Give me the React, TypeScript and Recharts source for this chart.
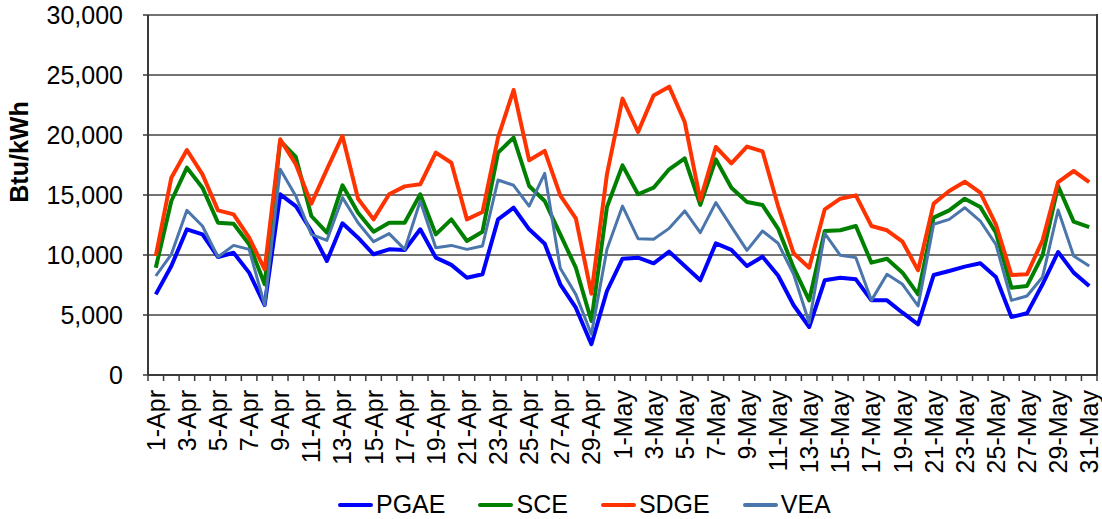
import { LineChart, Line, XAxis, YAxis, CartesianGrid, Legend, Label } from "recharts";

const dates = [
  "1-Apr", "2-Apr", "3-Apr", "4-Apr", "5-Apr", "6-Apr", "7-Apr", "8-Apr", "9-Apr", "10-Apr",
  "11-Apr", "12-Apr", "13-Apr", "14-Apr", "15-Apr", "16-Apr", "17-Apr", "18-Apr", "19-Apr", "20-Apr",
  "21-Apr", "22-Apr", "23-Apr", "24-Apr", "25-Apr", "26-Apr", "27-Apr", "28-Apr", "29-Apr", "30-Apr",
  "1-May", "2-May", "3-May", "4-May", "5-May", "6-May", "7-May", "8-May", "9-May", "10-May",
  "11-May", "12-May", "13-May", "14-May", "15-May", "16-May", "17-May", "18-May", "19-May", "20-May",
  "21-May", "22-May", "23-May", "24-May", "25-May", "26-May", "27-May", "28-May", "29-May", "30-May",
  "31-May",
];

const pgae = [
  6720, 9080, 12140, 11720, 9830, 10190, 8530, 5830, 15060, 14080,
  12000, 9500, 12640, 11440, 10060, 10470, 10420, 12140, 9780, 9180,
  8110, 8390, 12970, 13940, 12140, 10940, 7560, 5610, 2560, 7000,
  9690, 9780, 9310, 10280, 9080, 7890, 10970, 10420, 9080, 9860,
  8290, 5810, 4000, 7890, 8110, 7970, 6220, 6220, 5190, 4220,
  8330, 8670, 9030, 9310, 8170, 4830, 5140, 7560, 10250, 8530, 7420,
];

const sce = [
  8940, 14500, 17280, 15610, 12690, 12610, 10890, 7560, 19500, 18170,
  13250, 11860, 15810, 13530, 11940, 12690, 12690, 15060, 11720, 12970,
  11170, 11940, 18530, 19780, 15750, 14500, 11720, 8940, 4500, 14000,
  17470, 15060, 15610, 17140, 18060, 14170, 17970, 15610, 14420, 14160,
  12200, 8940, 6220, 12000, 12060, 12420, 9360, 9690, 8530, 6720,
  13110, 13720, 14690, 14000, 11860, 7280, 7420, 9970, 15750, 12780, 12330,
];

const sdge = [
  9920, 16440, 18750, 16720, 13720, 13390, 11440, 8810, 19640, 17560,
  14280, 17140, 19920, 14690, 12970, 15060, 15720, 15890, 18530, 17690,
  12970, 13580, 19780, 23750, 17890, 18670, 14970, 13060, 6780, 16720,
  23030, 20250, 23300, 24030, 21080, 14580, 19000, 17640, 19030, 18640,
  14080, 10140, 8940, 13810, 14690, 14970, 12420, 12060, 11110, 8720,
  14280, 15330, 16110, 15190, 12560, 8330, 8390, 11220, 16080, 17000, 16080,
];

const vea = [
  8250, 10060, 13720, 12420, 9830, 10800, 10470, 5830, 17140, 14920,
  11720, 11220, 14780, 12690, 11110, 11780, 10470, 14500, 10610, 10800,
  10470, 10750, 16250, 15810, 14080, 16810, 8890, 6720, 3390, 10470,
  14080, 11360, 11310, 12220, 13670, 11860, 14360, 12360, 10390, 12000,
  10980, 8390, 4360, 11810, 9970, 9780, 6220, 8390, 7560, 5750,
  12560, 12970, 13940, 12830, 10890, 6220, 6580, 8170, 13750, 9920, 9080,
];

const yTicks = [0, 5000, 10000, 15000, 20000, 25000, 30000];

const series = [
  { key: "PGAE", values: pgae },
  { key: "SCE", values: sce },
  { key: "SDGE", values: sdge },
  { key: "VEA", values: vea },
];

const styles: Record<string, { color: string; width: number }> = {
  PGAE: { color: "#0000ff", width: 4 },
  SCE: { color: "#008000", width: 4 },
  SDGE: { color: "#ff3300", width: 4 },
  VEA: { color: "#4a76ab", width: 3 },
};

const data = dates.map((date, i) => {
  const row: Record<string, string | number> = { date };
  series.forEach((s) => (row[s.key] = s.values[i]));
  return row;
});

const FONT = "'Liberation Sans', Arial, sans-serif";
const W = 1102;
const H = 519;
const LEFT = 148;
const RIGHT = 5;
const TOP = 15;
const X_AXIS_H = 100;
const BOTTOM = 44;
const STEP = (W - LEFT - RIGHT) / dates.length;
const FRAME = "#3a3a3a";

function DateTick(props: any) {
  const { x, y, payload, index } = props;
  const last = index === dates.length - 1;
  return (
    <g>
      <line x1={x - STEP / 2} x2={x - STEP / 2} y1={y} y2={y + 6} stroke={FRAME} strokeWidth={1.5} />
      {last && (
        <line x1={x + STEP / 2} x2={x + STEP / 2} y1={y} y2={y + 6} stroke={FRAME} strokeWidth={1.5} />
      )}
      {index % 2 === 0 && (
        <text
          transform={`translate(${x + 9},${y + 15}) rotate(-90)`}
          textAnchor="end"
          fontSize={25}
          fill="#000"
          fontFamily={FONT}
        >
          {payload.value}
        </text>
      )}
    </g>
  );
}

function LegendContent() {
  return (
    <div style={{ display: "flex", alignItems: "center", fontFamily: FONT, fontSize: 25, color: "#000" }}>
      {series.map((s) => (
        <div key={s.key} style={{ display: "flex", alignItems: "center", marginRight: 33 }}>
          <span
            style={{
              display: "inline-block",
              width: 35,
              height: 4,
              borderRadius: 2,
              background: styles[s.key].color,
              marginRight: 3,
            }}
          />
          <span>{s.key}</span>
        </div>
      ))}
    </div>
  );
}

export default function App() {
  return (
    <div style={{ position: "absolute", left: 0, top: 0, width: W, height: H, background: "#fff" }}>
      <LineChart
        width={W}
        height={H}
        data={data}
        margin={{ top: TOP, right: RIGHT, bottom: BOTTOM, left: 0 }}
        style={{ fontFamily: FONT }}
      >
        <CartesianGrid stroke="#444" strokeWidth={1.5} vertical={false} />
        <XAxis
          dataKey="date"
          interval={0}
          height={X_AXIS_H}
          padding={{ left: STEP / 2, right: STEP / 2 }}
          tickLine={false}
          tickSize={0}
          tickMargin={0}
          axisLine={{ stroke: FRAME, strokeWidth: 2 }}
          tick={<DateTick />}
        />
        <YAxis
          width={LEFT}
          domain={[0, 30000]}
          ticks={yTicks}
          interval={0}
          tickSize={5}
          tickMargin={20}
          tickLine={{ stroke: FRAME, strokeWidth: 1.5 }}
          axisLine={{ stroke: FRAME, strokeWidth: 2 }}
          tick={{ fill: "#000", fontSize: 25, fontFamily: FONT }}
          tickFormatter={(v: number) => v.toLocaleString("en-US")}
        >
          <Label
            content={() => (
              <text
                transform="translate(28,152) rotate(-90)"
                textAnchor="middle"
                fontSize={25}
                fontWeight="bold"
                fill="#000"
                fontFamily={FONT}
              >
                Btu/kWh
              </text>
            )}
          />
        </YAxis>
        <Legend
          verticalAlign="middle"
          align="center"
          layout="horizontal"
          wrapperStyle={{ left: 338, top: 490, width: "auto" }}
          content={<LegendContent />}
        />
        {series.map((s) => (
          <Line
            key={s.key}
            type="linear"
            dataKey={s.key}
            stroke={styles[s.key].color}
            strokeWidth={styles[s.key].width}
            strokeLinejoin="round"
            dot={false}
            activeDot={false}
            isAnimationActive={false}
          />
        ))}
      </LineChart>
      {/* right border of the plot frame */}
      <div
        style={{
          position: "absolute",
          left: W - RIGHT - 1,
          top: TOP - 1,
          width: 2,
          height: H - TOP - BOTTOM - X_AXIS_H + 2,
          background: FRAME,
        }}
      />
    </div>
  );
}
